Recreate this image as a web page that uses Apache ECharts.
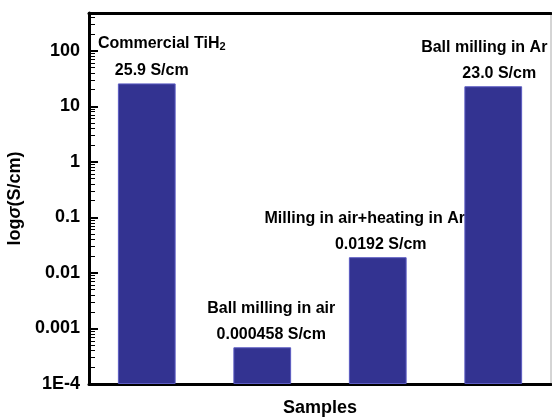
<!DOCTYPE html>
<html>
<head>
<meta charset="utf-8">
<script src="https://cdn.jsdelivr.net/npm/echarts@6/dist/echarts.min.js"></script>
<style>html,body{margin:0;padding:0;background:#fff;}#chart{width:552px;height:417px;}</style>
</head>
<body>
<div id="chart"></div>
<script>
// ---- data ----
var categories = ['Commercial TiH2', 'Ball milling in air', 'Milling in air+heating in Ar', 'Ball milling in Ar'];
var sampleLabels = ['Commercial TiH{sub|2}', 'Ball milling in air', 'Milling in air+heating in Ar', 'Ball milling in Ar'];
var conductivity = [25.9, 0.000458, 0.0192, 23.0];
var valueTexts = ['25.9 S/cm', '0.000458 S/cm', '0.0192 S/cm', '23.0 S/cm'];
var yTickValues = [1e-4, 1e-3, 1e-2, 1e-1, 1, 10, 100];
var yTickLabels = ['1E-4', '0.001', '0.01', '0.1', '1', '10', '100'];

// ---- layout / style (not data) ----
var nameShiftX = [15, 9, -13, -9];
var valueShiftX = [5, 9, 3, 6];
var yMin = 1e-4, yMax = 480;

var minorTicks = [];
for (var e = -4; e <= 2; e++) {
  for (var m = 2; m <= 9; m++) {
    var v = m * Math.pow(10, e);
    if (v < yMax) minorTicks.push(v);
  }
}

var font = 'Arial, "Liberation Sans", sans-serif';
var barColor = '#333391';

var chart = echarts.init(document.getElementById('chart'), null, {renderer: 'canvas'});

var valueData = conductivity.map(function (v, i) {
  return {
    value: v,
    label: {
      show: true, position: 'top', distance: 5, offset: [valueShiftX[i], 0],
      formatter: valueTexts[i]
    }
  };
});
var nameData = conductivity.map(function (v, i) {
  return {
    value: v,
    label: {
      show: true, position: 'top', distance: 5, offset: [nameShiftX[i], -26],
      formatter: sampleLabels[i]
    }
  };
});

var labelStyle = {
  color: '#000', fontFamily: font, fontWeight: 'bold', fontSize: 16,
  rich: {
    sub: {fontSize: 11, fontWeight: 'bold', fontFamily: font, color: '#000', verticalAlign: 'bottom', padding: [7, 0, 0, 0]}
  }
};

function tickAxis(values, len, width) {
  return {
    show: true,
    type: 'log', min: yMin, max: yMax, startValue: yMin, position: 'left', offset: -1,
    axisLine: {show: false},
    axisTick: {show: true, inside: true, length: len, lineStyle: {color: '#000', width: width}, customValues: values},
    axisLabel: {show: false},
    splitLine: {show: false}
  };
}

var option = {
  backgroundColor: '#fff',
  animation: false,
  grid: {left: 89, right: 1, top: 13, bottom: 33, outerBoundsMode: 'none', containLabel: false,
         show: true, borderColor: '#aaaaaa', borderWidth: 1, backgroundColor: 'transparent'},
  xAxis: [{
    type: 'category', data: categories, position: 'bottom',
    axisLine: {show: true, lineStyle: {color: '#000', width: 3}},
    axisTick: {show: false}, axisLabel: {show: false}, splitLine: {show: false},
    name: 'Samples', nameLocation: 'middle', nameGap: 15,
    nameTextStyle: {color: '#000', fontFamily: font, fontWeight: 'bold', fontSize: 18}
  }, {
    type: 'category', data: categories, position: 'top',
    axisLine: {show: true, lineStyle: {color: '#000', width: 3}},
    axisTick: {show: false}, axisLabel: {show: false}, splitLine: {show: false}
  }],
  yAxis: [{
    type: 'log', min: yMin, max: yMax, startValue: yMin, position: 'left',
    axisLine: {show: true, lineStyle: {color: '#000', width: 3}},
    axisTick: {show: false},
    axisLabel: {
      customValues: yTickValues, margin: 9,
      color: '#000', fontFamily: font, fontWeight: 'bold', fontSize: 18,
      formatter: function (val) {
        for (var i = 0; i < yTickValues.length; i++) {
          if (Math.abs(Math.log10(val) - Math.log10(yTickValues[i])) < 1e-6) return yTickLabels[i];
        }
        return '';
      }
    },
    splitLine: {show: false}, minorTick: {show: false},
    name: 'log{i|σ}(S/cm)', nameLocation: 'middle', nameGap: 52, nameRotate: 90,
    nameTextStyle: {
      color: '#000', fontFamily: font, fontWeight: 'bold', fontSize: 18,
      rich: {i: {fontStyle: 'italic', fontWeight: 'bold', fontFamily: font, fontSize: 18, color: '#000'}}
    }
  }, tickAxis(yTickValues, 8, 2), tickAxis(minorTicks, 5, 1)],
  series: [{
    type: 'bar', xAxisIndex: 0, yAxisIndex: 0, data: valueData, barWidth: '50%',
    itemStyle: {color: barColor, borderColor: '#5b5bc2', borderWidth: 1},
    label: labelStyle, z: 3
  }, {
    type: 'bar', xAxisIndex: 0, yAxisIndex: 1, data: nameData, barWidth: '50%', barGap: '-100%',
    itemStyle: {color: 'rgba(0,0,0,0)'},
    label: labelStyle, z: 2
  }]
};
chart.setOption(option);
</script>
</body>
</html>
